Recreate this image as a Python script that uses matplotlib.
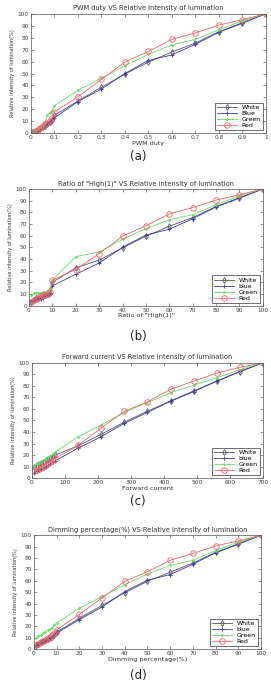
import numpy as np
import matplotlib
matplotlib.use("Agg")
import matplotlib.pyplot as plt

# (a) PWM duty
pwm_x = [0.01, 0.02, 0.03, 0.04, 0.05, 0.06, 0.07, 0.08, 0.09, 0.1,
         0.2, 0.3, 0.4, 0.5, 0.6, 0.7, 0.8, 0.9, 1.0]
pwm_white = [1, 2, 3, 4, 5, 6.5, 8, 9.5, 11, 15, 27, 38.5, 49.5, 59.5, 68, 75.5, 85, 92.5, 100]
pwm_blue = [1, 2, 3, 4, 5, 6, 7.5, 9, 10.5, 13, 26.5, 37, 50, 61, 65.5, 74.5, 84.5, 92, 100]
pwm_green = [1, 2, 3.5, 5, 6.5, 9, 15, 17, 19, 23, 36, 46, 56.5, 66, 74, 78.5, 86.5, 94, 100]
pwm_red = [1, 2, 3, 4.5, 6, 7.5, 9, 10.5, 13, 18, 30.5, 45, 59.5, 68.5, 78.5, 84, 90.5, 95, 100]

# (b) Ratio of "High(1)"
ratio_x = [1, 2, 3, 4, 5, 6, 7, 8, 9, 10, 20, 30, 40, 50, 60, 70, 80, 90, 100]
ratio_white = [3, 5, 6.5, 7, 8, 8.5, 9.5, 10, 11, 20, 32.5, 39, 49.5, 59.5, 68, 75.5, 85, 92.5, 100]
ratio_blue = [4, 5, 6, 6.5, 6, 7, 8, 9, 11, 17, 27, 36.5, 50, 60.5, 65.5, 74.5, 84.5, 92, 100]
ratio_green = [9, 10.5, 11, 11, 11, 11.5, 12, 13, 15, 22, 42, 46, 57, 66, 73.5, 78, 86.5, 94, 100]
ratio_red = [3, 4.5, 6, 7, 8, 9, 9.5, 10, 11.5, 22, 31, 44.5, 59.5, 68.5, 78.5, 84, 90.5, 95, 100]

# (c) Forward current
cur_x = [7, 14, 21, 28, 35, 42, 49, 56, 63, 70,
         140, 210, 280, 350, 420, 490, 560, 630, 700]
cur_white = [10, 11, 12, 13, 14, 15.5, 16.5, 17.5, 19, 20, 28, 38, 48.5, 58, 67, 75.5, 84, 92, 100]
cur_blue = [4.5, 6, 7, 8, 9, 10, 11.5, 12.5, 14, 15, 26, 36, 47.5, 57, 66.5, 75, 84, 92.5, 100]
cur_green = [10.5, 12, 13.5, 14.5, 16, 17, 18.5, 19.5, 21, 22.5, 36, 46, 57, 65.5, 74, 80.5, 87, 94, 100]
cur_red = [6, 7, 8, 9, 10.5, 11.5, 13, 14, 15.5, 17, 28.5, 43.5, 58, 66, 77, 84, 91, 96, 100]

# (d) Dimming percentage
dim_x = [1, 2, 3, 4, 5, 6, 7, 8, 9, 10, 20, 30, 40, 50, 60, 70, 80, 90, 100]
dim_white = [4, 5, 6, 7, 8, 9, 10, 11, 12.5, 15, 27, 38.5, 49.5, 59.5, 67.5, 75.5, 85, 92.5, 100]
dim_blue = [3.5, 4.5, 5.5, 6.5, 7.5, 8.5, 9.5, 10.5, 12, 14, 26, 37, 50.5, 60.5, 65.5, 74.5, 84.5, 92, 100]
dim_green = [10, 11.5, 12.5, 14, 15, 16.5, 17.5, 19, 21, 23, 36, 46, 56.5, 66, 73.5, 78, 86.5, 94, 100]
dim_red = [4, 5, 6, 7, 8, 9.5, 11, 12.5, 14.5, 17, 30.5, 45, 59.5, 68, 78, 84, 90.5, 95, 100]

panels = [
    dict(x=pwm_x, ys=[pwm_white, pwm_blue, pwm_green, pwm_red],
         names=["White", "Blue", "Green", "Red"],
         title="PWM duty VS Relative intensity of lumination",
         xlabel="PWM duty", xlim=(0, 1), xticks=np.arange(0, 1.01, 0.1),
         xticklabels=["0", "0.1", "0.2", "0.3", "0.4", "0.5", "0.6", "0.7", "0.8", "0.9", "1"],
         pos=[0.114, 0.806, 0.867, 0.174], tag="(a)", tag_y=0.763),
    dict(x=ratio_x, ys=[ratio_white, ratio_blue, ratio_green, ratio_red],
         names=["White", "blue", "Green", "Red"],
         title="Ratio of \"High(1)\" VS Relative intensity of lumination",
         xlabel="Ratio of \"High(1)\"", xlim=(0, 100), xticks=np.arange(0, 101, 10),
         xticklabels=None,
         pos=[0.107, 0.555, 0.863, 0.170], tag="(b)", tag_y=0.501),
    dict(x=cur_x, ys=[cur_white, cur_blue, cur_green, cur_red],
         names=["White", "blue", "Green", "Red"],
         title="Forward current VS Relative intensity of lumination",
         xlabel="Forward current", xlim=(0, 700), xticks=np.arange(0, 701, 100),
         xticklabels=None,
         pos=[0.118, 0.304, 0.852, 0.168], tag="(c)", tag_y=0.261),
    dict(x=dim_x, ys=[dim_white, dim_blue, dim_green, dim_red],
         names=["White", "blue", "Green", "Red"],
         title="Dimming percentage(%) VS Relative intensity of lumination",
         xlabel="Dimming percentage(%)", xlim=(0, 100), xticks=np.arange(0, 101, 10),
         xticklabels=None,
         pos=[0.125, 0.055, 0.838, 0.166], tag="(d)", tag_y=0.007),
]

styles = [
    dict(color="#555566", marker="d", ms=3, mfc="none", mew=0.6),
    dict(color="#3a3aa8", marker="+", ms=3, mew=0.6),
    dict(color="#66dd66", marker=".", ms=2.5, mew=0.5),
    dict(color="#ee6666", marker="o", ms=4, mfc="none", mew=0.6),
]

fig = plt.figure(figsize=(2.71, 6.87), dpi=100)

for p in panels:
    ax = fig.add_axes(p["pos"])
    for y, name, st in zip(p["ys"], p["names"], styles):
        ax.plot(p["x"], y, lw=0.6, label=name, **st)
    ax.set_xlim(*p["xlim"])
    ax.set_ylim(0, 100)
    ax.set_xticks(p["xticks"])
    if p["xticklabels"] is not None:
        ax.set_xticklabels(p["xticklabels"])
    ax.set_yticks(np.arange(0, 101, 10))
    ax.tick_params(direction="in", length=2, width=0.4, labelsize=4.2, pad=1.5,
                   colors="#444444", top=True, right=True)
    for s in ax.spines.values():
        s.set_linewidth(0.5)
        s.set_color("#555555")
    ax.set_title(p["title"], fontsize=4.8, pad=2.5, color="#333333")
    ax.set_xlabel(p["xlabel"], fontsize=4.6, labelpad=0.5, color="#333333")
    ax.set_ylabel("Relative intensity of lumination(%)", fontsize=3.6, labelpad=2, color="#333333")
    leg = ax.legend(loc="lower right", fontsize=4.5, handlelength=3.2, borderpad=0.3,
                    labelspacing=0.1, fancybox=False, framealpha=1, edgecolor="#333333")
    leg.get_frame().set_linewidth(0.5)
    fig.text(0.51, p["tag_y"], p["tag"], ha="center", va="bottom", fontsize=8.5, color="#222222")

fig.savefig("out.png", dpi=100, facecolor="white")
